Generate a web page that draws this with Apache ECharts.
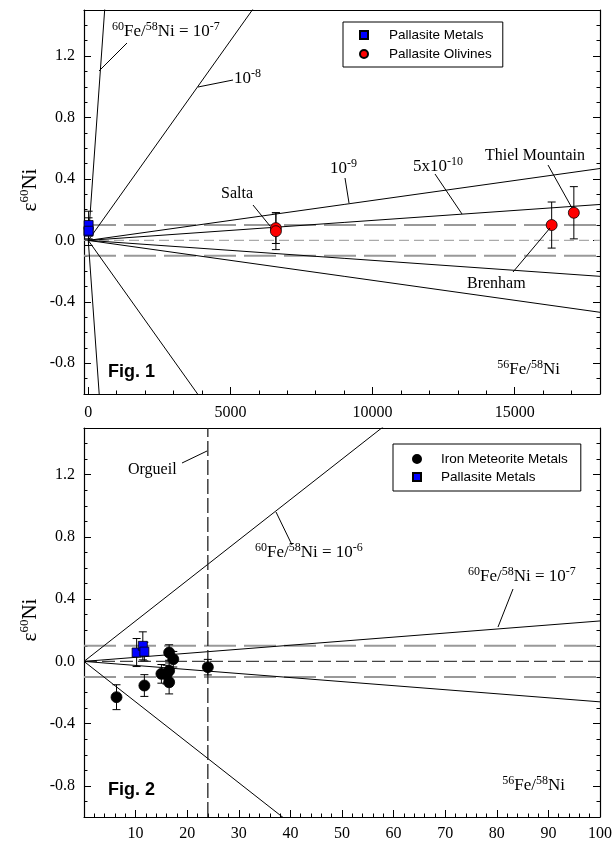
<!DOCTYPE html>
<html>
<head>
<meta charset="utf-8">
<script src="https://cdn.jsdelivr.net/npm/echarts@6/dist/echarts.min.js"></script>
<style>html,body{margin:0;padding:0;background:#fff}#main{width:615px;height:843px}</style>
</head>
<body>
<div id="main"></div>
<script>
// Fig.1 : pallasite olivines [Fe/Ni, eps60Ni, err]
var olivines = [[6600, 0.08, 0.10], [6600, 0.06, 0.12], [16300, 0.10, 0.15], [17080, 0.18, 0.17]];
// pallasite metals (both figures)
var pallMetals = [[10.2, 0.057, 0.09], [11.4, 0.10, 0.09], [11.7, 0.063, 0.06]];
// Fig.2 : iron meteorite metals
var ironMetals = [[6.3, -0.23, 0.08], [11.7, -0.155, 0.07], [15.0, -0.08, 0.06], [16.0, -0.085, 0.06],
                  [16.5, 0.057, 0.05], [17.3, 0.014, 0.05], [16.5, -0.06, 0.05], [16.5, -0.134, 0.075],
                  [24.0, -0.037, 0.05]];
// isochron slopes (eps per unit Fe/Ni)
var slopes1 = [2.6e-3, 2.6e-4, 2.6e-5, 1.3e-5];   // 1e-7, 1e-8, 1e-9, 5e-10
var slopes2 = [2.6e-2, 2.6e-3];                   // 1e-6, 1e-7
var orgueilX = 24;
var band = 0.1;

var yMajor = [-0.8, -0.4, 0, 0.4, 0.8, 1.2];
var yMinor = [-0.9, -0.7, -0.6, -0.5, -0.3, -0.2, -0.1, 0.1, 0.2, 0.3, 0.5, 0.6, 0.7, 0.9, 1.0, 1.1, 1.3, 1.4];
var x1Major = [0, 5000, 10000, 15000];
var x1Minor = [1000, 2000, 3000, 4000, 6000, 7000, 8000, 9000, 11000, 12000, 13000, 14000, 16000, 17000];
var x2Major = [10, 20, 30, 40, 50, 60, 70, 80, 90, 100];
var x2Minor = [2, 4, 6, 8, 12, 14, 16, 18, 22, 24, 26, 28, 32, 34, 36, 38, 42, 44, 46, 48, 52, 54, 56, 58,
               62, 64, 66, 68, 72, 74, 76, 78, 82, 84, 86, 88, 92, 94, 96, 98];

var X1 = [-150, 18000], X2 = [0, 100], Y = [-1.0, 1.5];
var SERIF = 'Liberation Serif', SANS = 'Liberation Sans';

var chart = echarts.init(document.getElementById('main'));

function xAxes(grid, rng, major, minor) {
    var base = {type: 'value', gridIndex: grid, min: rng[0], max: rng[1], splitLine: {show: false}};
    return [
        Object.assign({}, base, {position: 'bottom',
            axisLine: {show: true, onZero: false, lineStyle: {color: '#000', width: 1.2}},
            axisTick: {show: true, inside: true, length: 7, customValues: major, lineStyle: {color: '#000'}},
            axisLabel: {customValues: major, margin: grid == 0 ? 11 : 9, color: '#000', fontFamily: SERIF, fontSize: 16,
                formatter: function (v) { return String(v); }}}),
        Object.assign({}, base, {position: 'bottom',
            axisLine: {show: false, onZero: false},
            axisTick: {show: true, inside: true, length: 3.5, customValues: minor, lineStyle: {color: '#000'}},
            axisLabel: {show: false}}),
        Object.assign({}, base, {position: 'top',
            axisLine: {show: true, onZero: false, lineStyle: {color: '#000', width: 1.2}},
            axisTick: {show: false}, axisLabel: {show: false}})
    ];
}
function yAxes(grid) {
    var base = {type: 'value', gridIndex: grid, min: Y[0], max: Y[1], splitLine: {show: false}};
    var res = [];
    ['left', 'right'].forEach(function (pos) {
        res.push(Object.assign({}, base, {position: pos,
            axisLine: {show: true, onZero: false, lineStyle: {color: '#000', width: 1.2}},
            axisTick: {show: true, inside: true, length: 7, customValues: yMajor, lineStyle: {color: '#000'}},
            axisLabel: pos == 'left' ? {customValues: yMajor, margin: 9, color: '#000', fontFamily: SERIF, fontSize: 16,
                formatter: function (v) { return v.toFixed(1); }} : {show: false}}));
        res.push(Object.assign({}, base, {position: pos,
            axisLine: {show: false, onZero: false},
            axisTick: {show: true, inside: true, length: 3.5, customValues: yMinor, lineStyle: {color: '#000'}},
            axisLabel: {show: false}}));
    });
    return res;
}

function errRender(params, api) {
    var x = api.value(0), y = api.value(1), e = api.value(2);
    var hi = api.coord([x, y + e]), lo = api.coord([x, y - e]);
    var w = 4, st = {stroke: '#000', lineWidth: 1};
    return {type: 'group', children: [
        {type: 'line', shape: {x1: hi[0], y1: hi[1], x2: lo[0], y2: lo[1]}, style: st},
        {type: 'line', shape: {x1: hi[0] - w, y1: hi[1], x2: hi[0] + w, y2: hi[1]}, style: st},
        {type: 'line', shape: {x1: lo[0] - w, y1: lo[1], x2: lo[0] + w, y2: lo[1]}, style: st}
    ]};
}

function lineSeries(xi, yi, pts, color, width, dash) {
    return {type: 'line', xAxisIndex: xi, yAxisIndex: yi, data: pts, symbol: 'none', silent: true,
        clip: true, lineStyle: {color: color, width: width, type: dash || 'solid'}, z: 2};
}

var series = [];
// guide lines for both panels
[[0, 0, X1, '#aaa', [10, 5]], [3, 4, X2, '#444', [13, 5]]].forEach(function (p) {
    var xi = p[0], yi = p[1], r = p[2];
    series.push(lineSeries(xi, yi, [[r[0], band], [r[1], band]], '#999', 2, [32, 8]));
    series.push(lineSeries(xi, yi, [[r[0], -band], [r[1], -band]], '#999', 2, [32, 8]));
    series.push(lineSeries(xi, yi, [[r[0], 0], [r[1], 0]], p[3], 1.3, p[4]));
});
slopes1.forEach(function (s) {
    series.push(lineSeries(0, 0, [[0, 0], [X1[1], s * X1[1]]], '#000', 1));
    series.push(lineSeries(0, 0, [[0, 0], [X1[1], -s * X1[1]]], '#000', 1));
});
slopes2.forEach(function (s) {
    series.push(lineSeries(3, 4, [[0, 0], [X2[1], s * X2[1]]], '#000', 1));
    series.push(lineSeries(3, 4, [[0, 0], [X2[1], -s * X2[1]]], '#000', 1));
});
series.push(lineSeries(3, 4, [[orgueilX, Y[0]], [orgueilX, Y[1]]], '#222', 1.3, [15, 4]));

// error bars
[[0, 0, pallMetals], [0, 0, olivines], [3, 4, ironMetals], [3, 4, pallMetals]].forEach(function (p) {
    series.push({type: 'custom', xAxisIndex: p[0], yAxisIndex: p[1], data: p[2], renderItem: errRender,
        encode: {x: 0, y: 1}, silent: true, z: 3});
});
// markers
function marker(name, xi, yi, data, sym, size, color, z) {
    return {name: name, type: 'scatter', xAxisIndex: xi, yAxisIndex: yi, data: data, symbol: sym, symbolSize: size,
        itemStyle: {color: color, opacity: 1, borderColor: '#000', borderWidth: 0.8}, z: z};
}
series.push(marker('Pallasite Metals', 0, 0, pallMetals, 'rect', 9, '#0000ff', 5));
series.push(marker('Pallasite Olivines', 0, 0, olivines, 'circle', 11, '#ff0000', 5));
series.push(marker('Iron Meteorite Metals', 3, 4, ironMetals, 'circle', 11, '#000000', 5));
series.push(marker('Pallasite Metals', 3, 4, pallMetals, 'rect', 9, '#0000ff', 6));

// annotation text
var rich = {
    n: {fontFamily: SERIF, fontSize: 17, lineHeight: 22, fill: '#000'},
    w: {fontFamily: SERIF, fontSize: 16, lineHeight: 22, fill: '#000'},
    s: {fontFamily: SERIF, fontSize: 12, lineHeight: 12, verticalAlign: 'top', fill: '#000'},
    e: {fontFamily: SERIF, fontSize: 21, lineHeight: 24, fill: '#000'},
    es: {fontFamily: SERIF, fontSize: 13, lineHeight: 13, verticalAlign: 'top', fill: '#000'}
};
function txt(x, y, s, align) {
    return {type: 'text', x: x, y: y, z: 10, style: {text: s, rich: rich, align: align || 'left', verticalAlign: 'middle'}};
}
function lead(x1, y1, x2, y2) {
    return {type: 'line', z: 10, shape: {x1: x1, y1: y1, x2: x2, y2: y2}, style: {stroke: '#000', lineWidth: 1}};
}
function fig(x, y, s) {
    return {type: 'text', x: x, y: y, z: 10, style: {text: s, font: 'bold 18px ' + SANS, fill: '#000', verticalAlign: 'middle'}};
}
function ytitle(y) {
    return {type: 'text', x: 30, y: y, rotation: Math.PI / 2, z: 10,
        style: {text: '{e|\u03b5}{es|60}{e|Ni}', rich: rich, align: 'center', verticalAlign: 'middle'}};
}
var ratio = '{s|60}{n|Fe/}{s|58}{n|Ni = 10}';
var graphics = [
    ytitle(190), ytitle(620),
    fig(108, 372, 'Fig. 1'), fig(108, 790, 'Fig. 2'),
    txt(560, 370, '{s|56}{n|Fe/}{s|58}{n|Ni}', 'right'),
    txt(565, 786, '{s|56}{n|Fe/}{s|58}{n|Ni}', 'right'),
    // fig 1 labels
    txt(112, 32, ratio + '{s|-7}'), lead(99, 71, 127, 43),
    txt(234, 79, '{n|10}{s|-8}'), lead(198, 87, 233, 80),
    txt(330, 169, '{n|10}{s|-9}'), lead(349, 203, 345, 178),
    txt(413, 167, '{n|5x10}{s|-10}'), lead(435, 174, 462, 214),
    txt(485, 156, '{w|Thiel Mountain}'), lead(548, 165, 572, 208),
    txt(467, 284, '{w|Brenham}'), lead(513, 272, 550, 228),
    txt(221, 194, '{w|Salta}'), lead(253, 205, 270, 226),
    // fig 2 labels
    txt(128, 470, '{w|Orgueil}'), lead(182, 463, 207, 451),
    txt(255, 553, ratio + '{s|-6}'), lead(276, 512, 292, 545),
    txt(468, 577, ratio + '{s|-7}'), lead(513, 589, 498, 627)
];

var legendText = {fontFamily: SANS, fontSize: 13.5, color: '#000'};
chart.setOption({
    backgroundColor: '#fff',
    animation: false,
    grid: [{left: 84, top: 10, width: 516, height: 384}, {left: 84, top: 428, width: 516, height: 389}],
    xAxis: xAxes(0, X1, x1Major, x1Minor).concat(xAxes(1, X2, x2Major, x2Minor)),
    yAxis: yAxes(0).concat(yAxes(1)),
    legend: [
        {data: ['Pallasite Metals', 'Pallasite Olivines'], orient: 'vertical', left: 343, top: 22,
         itemWidth: 8, itemHeight: 8, itemGap: 5, borderColor: '#000', borderWidth: 1,
         padding: [6, 11, 6, 16], selectedMode: false, backgroundColor: '#fff',
         textStyle: Object.assign({padding: [0, 0, 0, 16]}, legendText)},
        {data: ['Iron Meteorite Metals', 'Pallasite Metals'], orient: 'vertical', left: 393, top: 444,
         itemWidth: 8, itemHeight: 8, itemGap: 4, borderColor: '#000', borderWidth: 1,
         padding: [8, 13, 7, 19], selectedMode: false, backgroundColor: '#fff',
         textStyle: Object.assign({padding: [0, 0, 0, 15]}, legendText)}
    ],
    series: series,
    graphic: graphics
});
</script>
</body>
</html>
